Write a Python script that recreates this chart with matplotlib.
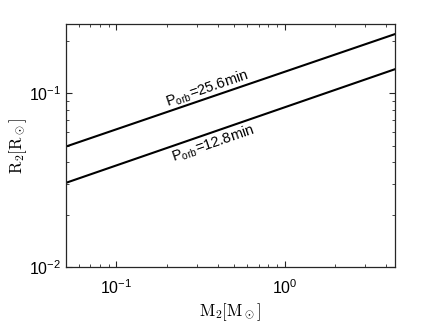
import numpy as np
import matplotlib
matplotlib.use("Agg")
import matplotlib.pyplot as plt

m2 = [0.05, 4.5]
r2_long = [0.0493, 0.218]    # P_orb = 25.6 min
r2_short = [0.0305, 0.137]   # P_orb = 12.8 min
labels = [r'P$_{\rm orb}$=25.6min', r'P$_{\rm orb}$=12.8min']
label_x = 0.36

plt.rcParams['font.family'] = ['Liberation Sans', 'DejaVu Sans']
plt.rcParams['mathtext.fontset'] = 'custom'
plt.rcParams['mathtext.rm'] = 'Liberation Sans'
plt.rcParams['mathtext.it'] = 'Liberation Sans:italic'

fig = plt.figure(figsize=(4.36, 3.27), dpi=100)
ax = fig.add_axes([0.151, 0.183, 0.754, 0.744])

ax.plot(m2, r2_long, color='black', lw=1.5)
ax.plot(m2, r2_short, color='black', lw=1.5)
ax.set_xscale('log')
ax.set_yscale('log')
ax.set_xlim(0.05, 4.5)
ax.set_ylim(0.01, 0.25)

ax.tick_params(which='both', direction='in', top=True, right=True,
               labelsize=11.5, color='#262626')
ax.tick_params(which='major', length=4, width=0.8)
ax.tick_params(which='minor', length=2.5, width=0.6)
ax.tick_params(axis='x', pad=8)
for s in ax.spines.values():
    s.set_linewidth(0.9)
    s.set_color('#262626')

ax.set_xlabel(r'$\mathrm{M_2[M_\odot]}$', fontsize=12, math_fontfamily='cm', labelpad=3)
ax.set_ylabel(r'$\mathrm{R_2[R_\odot]}$', fontsize=12, math_fontfamily='cm', labelpad=0)

# rotate labels along lines (in display space), offset perpendicular to line
fig.canvas.draw()
for ys, lab, va, off in [(r2_long, labels[0], 'bottom', 0.5), (r2_short, labels[1], 'top', -1.5)]:
    p0 = ax.transData.transform((m2[0], ys[0]))
    p1 = ax.transData.transform((m2[1], ys[1]))
    a = np.arctan2(p1[1] - p0[1], p1[0] - p0[0])
    slope = np.log(ys[1] / ys[0]) / np.log(m2[1] / m2[0])
    y_at = ys[0] * (label_x / m2[0]) ** slope
    ax.annotate(lab, (label_x, y_at), xytext=(-off * np.sin(a), off * np.cos(a)),
                textcoords='offset points', rotation=np.degrees(a),
                rotation_mode='anchor', ha='center', va=va, fontsize=10.5)

fig.savefig('out.png', dpi=100)
